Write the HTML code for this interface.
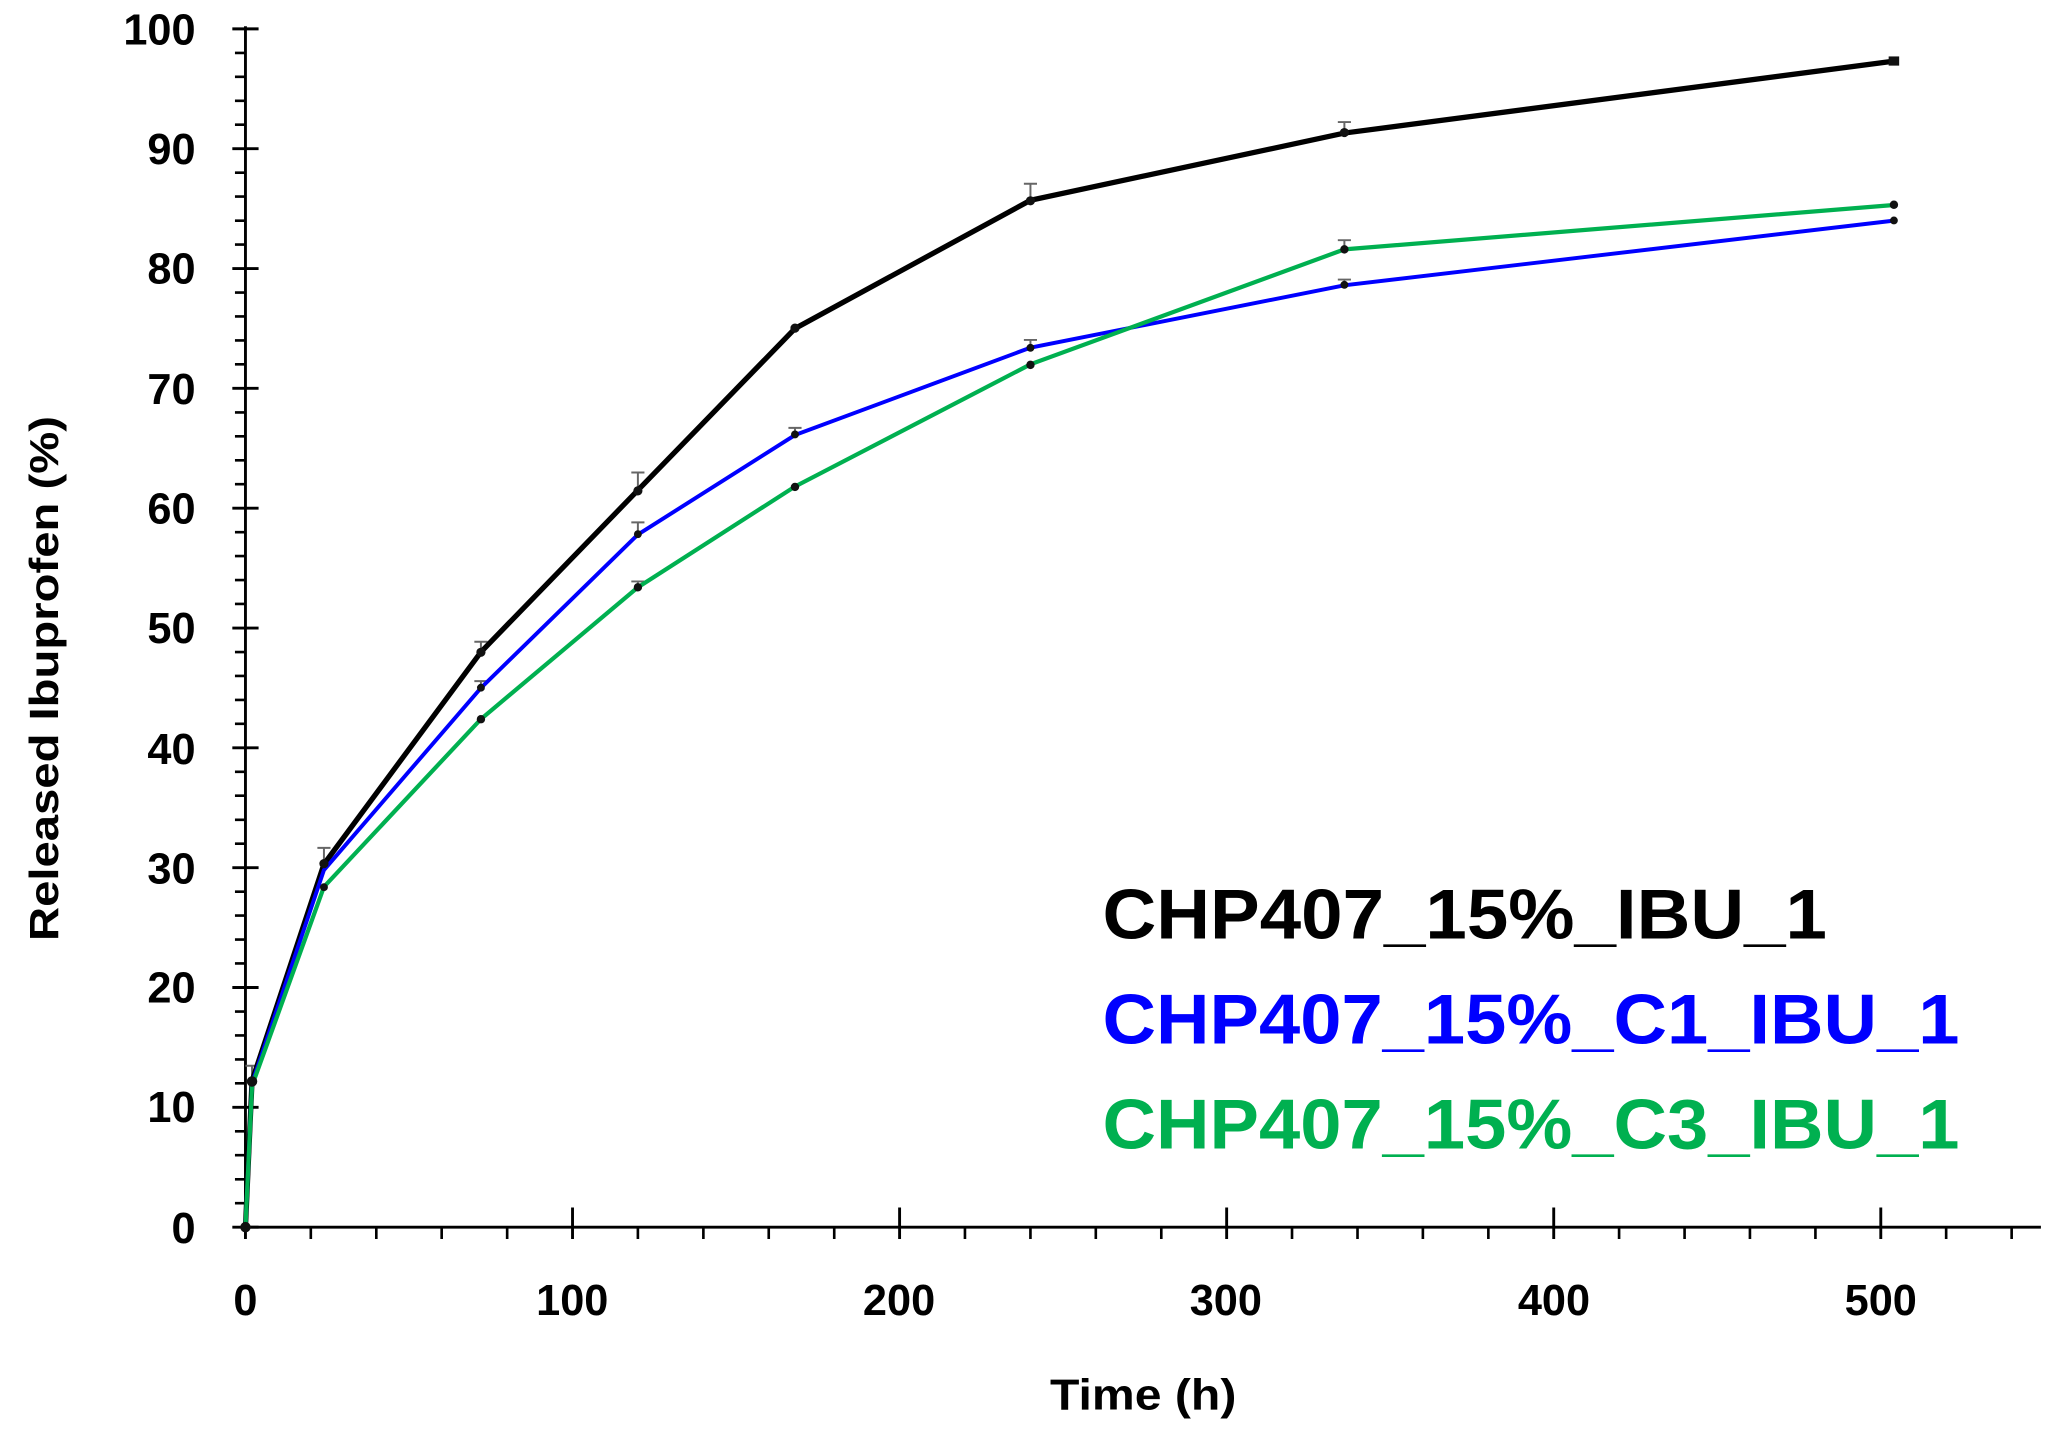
<!DOCTYPE html>
<html><head><meta charset="utf-8"><style>html,body{margin:0;padding:0;background:#fff}svg{display:block}</style></head>
<body>
<svg width="2058" height="1434" viewBox="0 0 1568 1092.6" xmlns="http://www.w3.org/2000/svg" font-family="Liberation Sans, sans-serif" font-weight="bold">
<g stroke="#000" stroke-width="2.2">
<line x1="187" y1="20" x2="187" y2="936"/>
<line x1="186" y1="935" x2="1555" y2="935"/>
<path d="M177 22H197M177 113.3H197M177 204.6H197M177 295.9H197M177 387.2H197M177 478.5H197M177 569.8H197M177 661.1H197M177 752.4H197M177 843.7H197M177 935H197"/>
<path stroke-width="2" d="M179 40.3H187M179 58.5H187M179 76.8H187M179 95H187M179 131.6H187M179 149.8H187M179 168.1H187M179 186.3H187M179 222.9H187M179 241.1H187M179 259.4H187M179 277.6H187M179 314.2H187M179 332.4H187M179 350.7H187M179 368.9H187M179 405.5H187M179 423.7H187M179 442H187M179 460.2H187M179 496.8H187M179 515H187M179 533.3H187M179 551.5H187M179 588.1H187M179 606.3H187M179 624.6H187M179 642.8H187M179 679.4H187M179 697.6H187M179 715.9H187M179 734.1H187M179 770.7H187M179 788.9H187M179 807.2H187M179 825.4H187M179 862H187M179 880.2H187M179 898.5H187M179 916.7H187"/>
<path d="M187 920V944M436.2 920V944M685.4 920V944M934.6 920V944M1183.8 920V944M1433 920V944"/>
<path stroke-width="2" d="M236.8 935V944M286.7 935V944M336.5 935V944M386.4 935V944M486 935V944M535.9 935V944M585.7 935V944M635.6 935V944M735.2 935V944M785.1 935V944M834.9 935V944M884.8 935V944M984.4 935V944M1034.3 935V944M1084.1 935V944M1134 935V944M1233.6 935V944M1283.5 935V944M1333.3 935V944M1383.2 935V944M1482.8 935V944M1532.7 935V944"/>
</g>
<g font-size="33" text-anchor="end">
<text x="149" y="34">100</text><text x="149" y="125">90</text><text x="149" y="216">80</text><text x="149" y="308">70</text><text x="149" y="399">60</text><text x="149" y="490">50</text><text x="149" y="582">40</text><text x="149" y="673">30</text><text x="149" y="764">20</text><text x="149" y="855">10</text><text x="149" y="947">0</text>
</g>
<g font-size="33" text-anchor="middle">
<text x="187" y="1002">0</text><text x="436" y="1002">100</text><text x="685" y="1002">200</text><text x="934" y="1002">300</text><text x="1184" y="1002">400</text><text x="1433" y="1002">500</text>
<text x="871" y="1074" textLength="142" lengthAdjust="spacingAndGlyphs">Time (h)</text>
<text transform="translate(44,517) rotate(-90)" font-size="31" textLength="400" lengthAdjust="spacingAndGlyphs">Released Ibuprofen (%)</text>
</g>
<g stroke="#666" stroke-width="1.5" fill="none">
<path d="M192 812V824M187 812H197M246.8 646V658M241.8 646H251.8M366.4 489V497M361.4 489H371.4M486 360V374M481 360H491M785.1 140V153M780.1 140H790.1M1024.3 93V101M1019.3 93H1029.3"/>
<path d="M486 398V407M481 398H491M785.1 259V265M780.1 259H790.1M366.4 519V524M361.4 519H371.4M605.7 326V332M600.7 326H610.7M1024.3 213V217M1019.3 213H1029.3"/>
<path d="M1024.3 183V190M1019.3 183H1029.3M486 443V448M481 443H491"/>
</g>
<polyline fill="none" stroke="#000" stroke-width="4" points="187,935 192,823.6 246.8,658.4 366.4,496.8 486,373.5 605.7,250.3 785.1,152.6 1024.3,101.4 1443,46.6"/>
<polyline fill="none" stroke="#0000ff" stroke-width="3" points="187,935 192,825.4 246.8,662.9 366.4,524.2 486,407.3 605.7,331.5 785.1,264.9 1024.3,217.4 1443,168.1"/>
<polyline fill="none" stroke="#00b050" stroke-width="3.2" points="187,935 192,827.3 246.8,675.7 366.4,547.9 486,447.5 605.7,370.7 785.1,277.6 1024.3,190 1443,156.2"/>
<g fill="#111">
<circle cx="187" cy="935" r="4"/><circle cx="192" cy="824" r="4"/><circle cx="246.8" cy="658" r="3.5"/><circle cx="366.4" cy="497" r="3.5"/><circle cx="486" cy="374" r="3.5"/><circle cx="605.7" cy="250" r="3.5"/><circle cx="785.1" cy="153" r="3.5"/><circle cx="1024.3" cy="101" r="3.5"/><rect x="1439" y="43" width="8" height="7"/>
<circle cx="486" cy="407" r="3"/><circle cx="366.4" cy="524" r="3"/><circle cx="605.7" cy="331" r="3"/><circle cx="785.1" cy="265" r="3"/><circle cx="1024.3" cy="217" r="3"/><circle cx="1443" cy="168" r="3"/>
<circle cx="246.8" cy="676" r="3"/><circle cx="366.4" cy="548" r="3.2"/><circle cx="486" cy="447.5" r="3.2"/><circle cx="605.7" cy="371" r="3.2"/><circle cx="785.1" cy="278" r="3.2"/><circle cx="1024.3" cy="190" r="3.2"/><circle cx="1443" cy="156" r="3.2"/>
</g>
<g font-size="54">
<text x="840" y="715" fill="#000" textLength="552" lengthAdjust="spacingAndGlyphs">CHP407_15%_IBU_1</text>
<text x="840" y="795" fill="#0000ff" textLength="653" lengthAdjust="spacingAndGlyphs">CHP407_15%_C1_IBU_1</text>
<text x="840" y="875" fill="#00b050" textLength="653" lengthAdjust="spacingAndGlyphs">CHP407_15%_C3_IBU_1</text>
</g>
</svg>
</body></html>
